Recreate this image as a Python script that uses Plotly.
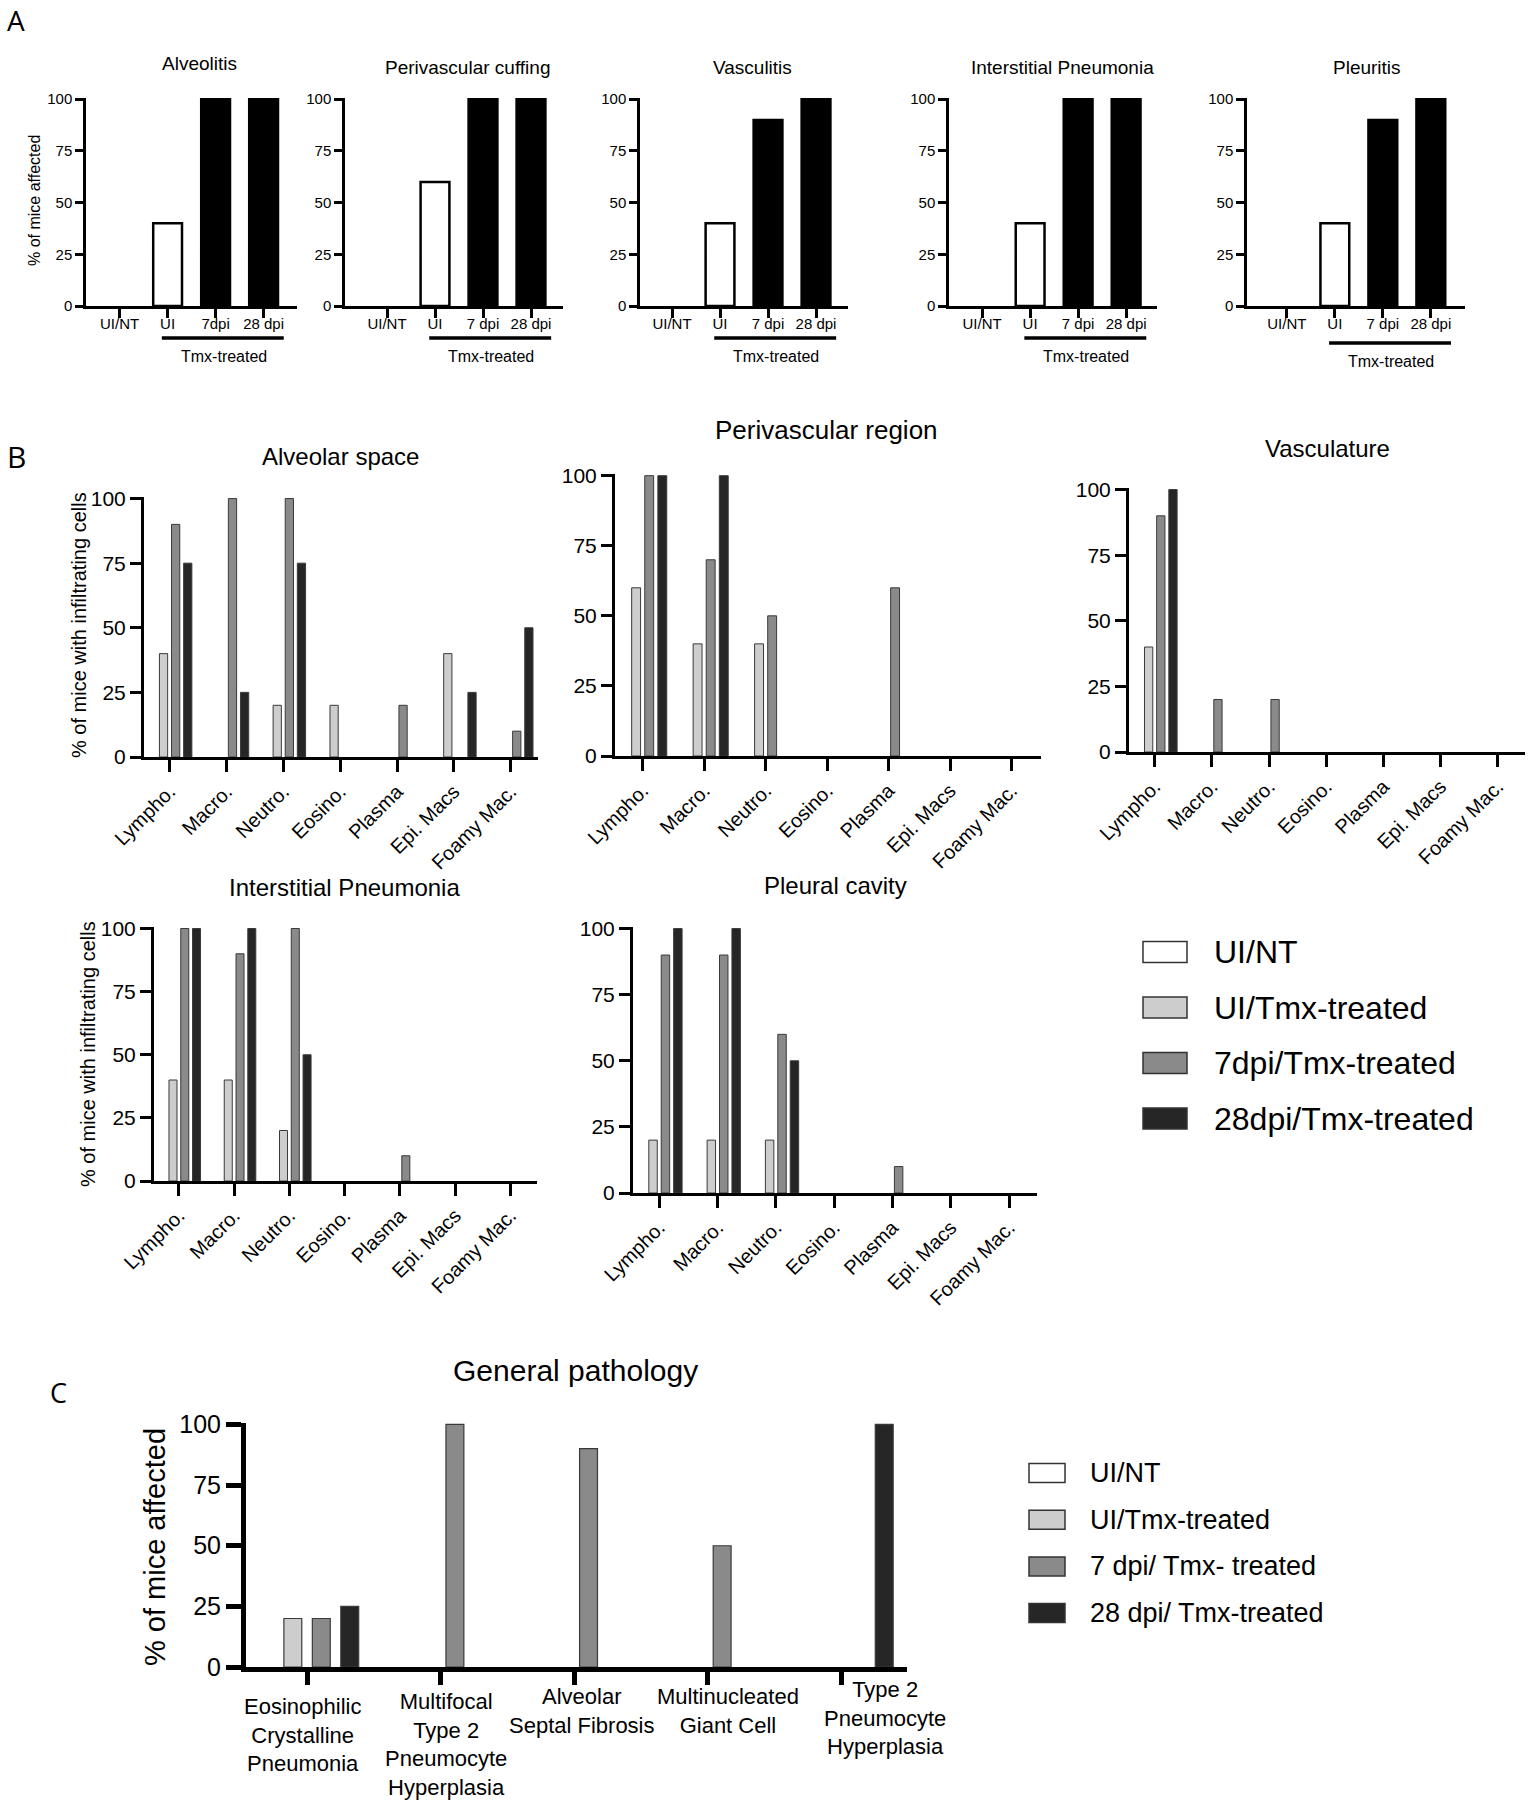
import plotly.graph_objects as go

W, H = 1531, 1800
FONT = "Liberation Sans, Arial, sans-serif"
LETTER_FONT = "Open Sans, Noto Sans, sans-serif"

# ---------------- Panel A data ----------------
a_groups = ["UI/NT", "UI", "7 dpi", "28 dpi"]
a_ticks_alveolitis = ["UI/NT", "UI", "7dpi", "28 dpi"]
a_ticks_other = ["UI/NT", "UI", "7 dpi", "28 dpi"]
a_titles = ["Alveolitis", "Perivascular cuffing", "Vasculitis",
            "Interstitial Pneumonia", "Pleuritis"]
alveolitis = [0, 40, 100, 100]
perivascular_cuffing = [0, 60, 100, 100]
vasculitis = [0, 40, 90, 100]
interstitial_pneumonia_a = [0, 40, 100, 100]
pleuritis = [0, 40, 90, 100]
a_fill = ["white", "white", "black", "black"]
a_bracket_label = "Tmx-treated"
a_ylabel = "% of mice affected"

# ---------------- Panel B data ----------------
cells = ["Lympho.", "Macro.", "Neutro.", "Eosino.", "Plasma", "Epi. Macs", "Foamy Mac."]
b_series = ["UI/NT", "UI/Tmx-treated", "7dpi/Tmx-treated", "28dpi/Tmx-treated"]
b_titles = ["Alveolar space", "Perivascular region", "Vasculature",
            "Interstitial Pneumonia", "Pleural cavity"]
b_ylabel = "% of mice with infiltrating cells"

alv_ui_nt = [0, 0, 0, 0, 0, 0, 0]
alv_ui_tmx = [40, 0, 20, 20, 0, 40, 0]
alv_7dpi = [90, 100, 100, 0, 20, 0, 10]
alv_28dpi = [75, 25, 75, 0, 0, 25, 50]

peri_ui_nt = [0, 0, 0, 0, 0, 0, 0]
peri_ui_tmx = [60, 40, 40, 0, 0, 0, 0]
peri_7dpi = [100, 70, 50, 0, 60, 0, 0]
peri_28dpi = [100, 100, 0, 0, 0, 0, 0]

vasc_ui_nt = [0, 0, 0, 0, 0, 0, 0]
vasc_ui_tmx = [40, 0, 0, 0, 0, 0, 0]
vasc_7dpi = [90, 20, 20, 0, 0, 0, 0]
vasc_28dpi = [100, 0, 0, 0, 0, 0, 0]

ip_ui_nt = [0, 0, 0, 0, 0, 0, 0]
ip_ui_tmx = [40, 40, 20, 0, 0, 0, 0]
ip_7dpi = [100, 90, 100, 0, 10, 0, 0]
ip_28dpi = [100, 100, 50, 0, 0, 0, 0]

pleu_ui_nt = [0, 0, 0, 0, 0, 0, 0]
pleu_ui_tmx = [20, 20, 20, 0, 0, 0, 0]
pleu_7dpi = [90, 90, 60, 0, 10, 0, 0]
pleu_28dpi = [100, 100, 50, 0, 0, 0, 0]

# ---------------- Panel C data ----------------
c_cats = ["Eosinophilic Crystalline Pneumonia",
          "Multifocal Type 2 Pneumocyte Hyperplasia",
          "Alveolar Septal Fibrosis",
          "Multinucleated Giant Cell",
          "Type 2 Pneumocyte Hyperplasia"]
c_ticklabels = ["Eosinophilic<br>Crystalline<br>Pneumonia",
                "Multifocal<br>Type 2<br>Pneumocyte<br>Hyperplasia",
                "Alveolar<br>Septal Fibrosis",
                "Multinucleated<br>Giant Cell",
                "Type 2<br>Pneumocyte<br>Hyperplasia"]
c_series = ["UI/NT", "UI/Tmx-treated", "7 dpi/ Tmx- treated", "28 dpi/ Tmx-treated"]
c_title = "General pathology"
c_ylabel = "% of mice affected"
c_ui_nt = [0, 0, 0, 0, 0]
c_ui_tmx = [20, 0, 0, 0, 0]
c_7dpi = [20, 100, 90, 50, 0]
c_28dpi = [25, 0, 0, 0, 100]

series_colors = ["#ffffff", "#cdcdcd", "#8a8a8a", "#262626"]
y_ticks = [0, 25, 50, 75, 100]

# ---------------- helpers ----------------
def fx(px):
    return px / W

def fy(py):
    return 1 - py / H

def outline_widths(vals, w):
    # no outline on empty (zero-height) bars so they don't show on the axis
    return [w if v > 0 else 0 for v in vals]

fig = go.Figure()
layout = dict(width=W, height=H,
              margin=dict(l=0, r=0, t=0, b=0, pad=0, autoexpand=False),
              autosize=False,
              paper_bgcolor="white", plot_bgcolor="white", barmode="overlay",
              showlegend=False, font=dict(family=FONT, color="black"))
annotations = []
shapes = []
counter = [0]


def new_axes(x0, x1, ytop, yzero, xrange, cats, ticktext, xfont, yfont,
             lw, tlx, tly, tw, tickangle=0, showx=True, xstandoff=0):
    counter[0] += 1
    n = counter[0]
    s = "" if n == 1 else str(n)
    layout["xaxis" + s] = dict(
        domain=[fx(x0), fx(x1)], anchor="y" + s, type="category",
        categoryorder="array", categoryarray=cats, range=xrange,
        tickmode="array", tickvals=cats, ticktext=ticktext,
        showline=True, linecolor="black", linewidth=lw,
        ticks="outside", ticklen=tlx, tickwidth=tw, tickcolor="black",
        showgrid=False, zeroline=False, tickangle=tickangle, automargin=False,
        ticklabelstandoff=xstandoff,
        showticklabels=showx, tickfont=dict(size=xfont, family=FONT, color="black"),
        fixedrange=True)
    layout["yaxis" + s] = dict(
        domain=[fy(yzero), fy(ytop)], anchor="x" + s, range=[0, 100.6],
        tickmode="array", tickvals=y_ticks, automargin=False,
        showline=True, linecolor="black", linewidth=lw,
        ticks="outside", ticklen=tly, tickwidth=tw, tickcolor="black",
        showgrid=False, zeroline=False,
        tickfont=dict(size=yfont, family=FONT, color="black"), fixedrange=True)
    return "x" + s, "y" + s


def ann(text, x, y, size, xref="paper", yref="paper", xanchor="center",
        yanchor="middle", textangle=0, family=FONT, xshift=0, align="center"):
    annotations.append(dict(text=text, x=x, y=y, xref=xref, yref=yref,
                            xanchor=xanchor, yanchor=yanchor, showarrow=False,
                            textangle=textangle, xshift=xshift, align=align,
                            font=dict(size=size, family=family, color="black")))


# ---------------- Panel A ----------------
A_SP = 48.0
a_geo = [  # (axis x px, left pad, right pad, title y px)
    (86, 0.70, 3.70, 63),
    (345, 0.875, 3.67, 67),
    (640, 0.667, 3.67, 67),
    (949, 0.69, 3.65, 67),
    (1247, 0.83, 3.71, 67),
]
a_vals = [alveolitis, perivascular_cuffing, vasculitis, interstitial_pneumonia_a, pleuritis]
for i, (x0, L, R, ty) in enumerate(a_geo):
    x1 = x0 + (L + R) * A_SP
    ticks = a_ticks_alveolitis if i == 0 else a_ticks_other
    xa, ya = new_axes(x0, x1, 98, 306, [-L, R], a_groups, ticks, 15, 15,
                      2.5, 9, 8, 2.5, xstandoff=-7)
    fig.add_trace(go.Bar(x=a_groups, y=a_vals[i], width=0.6, xaxis=xa, yaxis=ya,
                         marker=dict(color=a_fill,
                                     line=dict(color="black",
                                               width=outline_widths(a_vals[i], 2.5))),
                         hoverinfo="x+y"))
    ann(a_titles[i], fx(x0 + (L + 1.5) * A_SP + 8), fy(ty), 19)
    by = 343 if i == 4 else 338
    shapes.append(dict(type="line", xref=xa, yref="paper", x0=0.88, x1=3.42,
                       y0=fy(by), y1=fy(by), line=dict(color="black", width=3.5)))
    ann(a_bracket_label, 2.17, fy(by + 18), 16, xref=xa)
ann(a_ylabel, fx(34), fy(201), 16, textangle=-90)
ann("A", fx(16), fy(20), 28, family=LETTER_FONT)

# ---------------- Panel B ----------------
b_geo = [  # (x0, x1, ytop, yzero, title cx, title cy, title size)
    (144, 538, 497, 757, 340, 457, 24),
    (615, 1041, 474, 756, 826, 430, 26),
    (1129, 1525, 488, 752, 1327, 448, 24),
    (154, 537, 927, 1181, 344, 887, 24),
    (633, 1037, 927, 1193, 835, 885, 24),
]
b_data = [
    [alv_ui_nt, alv_ui_tmx, alv_7dpi, alv_28dpi],
    [peri_ui_nt, peri_ui_tmx, peri_7dpi, peri_28dpi],
    [vasc_ui_nt, vasc_ui_tmx, vasc_7dpi, vasc_28dpi],
    [ip_ui_nt, ip_ui_tmx, ip_7dpi, ip_28dpi],
    [pleu_ui_nt, pleu_ui_tmx, pleu_7dpi, pleu_28dpi],
]
BAR_STEP = 0.213
B_BAR_W = 0.145
for i, (x0, x1, yt, yz, tcx, tcy, tsz) in enumerate(b_geo):
    xa, ya = new_axes(x0, x1, yt, yz, [-0.45, 6.48], cells, cells, 20, 21,
                      3, 12, 11, 3, tickangle=-45)
    for k in range(4):
        vals = b_data[i][k]
        fig.add_trace(go.Bar(
            x=cells, y=vals, name=b_series[k], xaxis=xa, yaxis=ya,
            width=B_BAR_W, offset=(k - 1.5) * BAR_STEP - B_BAR_W / 2,
            marker=dict(color=series_colors[k],
                        line=dict(color="#3a3a3a", width=outline_widths(vals, 1)))))
    ann(b_titles[i], fx(tcx), fy(tcy), tsz)
ann(b_ylabel, fx(79), fy(625), 20, textangle=-90)
ann(b_ylabel, fx(88), fy(1054), 20, textangle=-90)
ann("B", fx(16), fy(457), 30, family=LETTER_FONT)

# Legend B
for k in range(4):
    cy = 952 + k * 55.5
    shapes.append(dict(type="rect", xref="paper", yref="paper",
                       x0=fx(1143), x1=fx(1187), y0=fy(cy + 10.5), y1=fy(cy - 10.5),
                       fillcolor=series_colors[k], line=dict(color="#333333", width=1.5)))
    ann(b_series[k], fx(1212), fy(cy), 32, xanchor="left")

# ---------------- Panel C ----------------
xa, ya = new_axes(246, 907, 1423, 1667, [-0.457, 4.49], c_cats, c_cats, 22, 25,
                  5, 13, 15, 5, showx=False)
C_BAR_W = 0.134
c_data = [c_ui_nt, c_ui_tmx, c_7dpi, c_28dpi]
for k in range(4):
    vals = c_data[k]
    fig.add_trace(go.Bar(
        x=c_cats, y=vals, name=c_series[k], xaxis=xa, yaxis=ya,
        width=C_BAR_W, offset=(k - 1.5) * BAR_STEP - C_BAR_W / 2,
        marker=dict(color=series_colors[k],
                    line=dict(color="#3a3a3a", width=outline_widths(vals, 1.2)))))
c_label_pos = [(-5, 1692), (5, 1687), (8, 1682), (20, 1682), (43, 1675)]
for j, (dx, ty) in enumerate(c_label_pos):
    ann(c_ticklabels[j], j, fy(ty), 22, xref=xa, yanchor="top", xshift=dx)
ann(c_title, fx(575), fy(1370), 30)
ann(c_ylabel, fx(155), fy(1547), 29, textangle=-90)
ann("C", fx(58), fy(1392), 27, family=LETTER_FONT)

# Legend C
for k in range(4):
    cy = 1473 + k * 46.7
    shapes.append(dict(type="rect", xref="paper", yref="paper",
                       x0=fx(1029), x1=fx(1065), y0=fy(cy + 9.5), y1=fy(cy - 9.5),
                       fillcolor=series_colors[k], line=dict(color="#333333", width=1.5)))
    ann(c_series[k], fx(1088), fy(cy), 27, xanchor="left")

layout["annotations"] = annotations
layout["shapes"] = shapes
fig.update_layout(**layout)
fig.write_html("out.html",
               config={"displayModeBar": False, "responsive": False},
               post_script="document.body.style.margin='0';document.body.style.overflow='hidden';")
